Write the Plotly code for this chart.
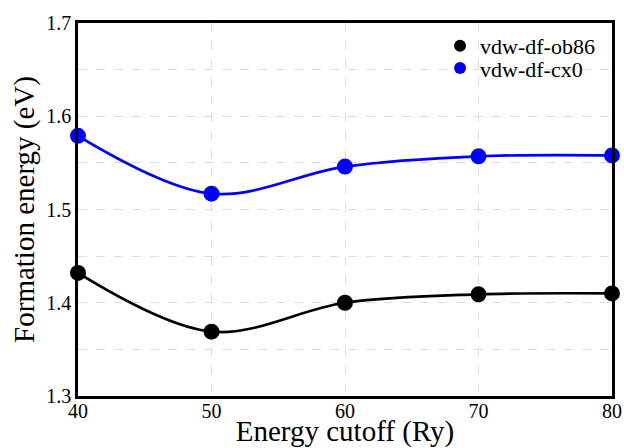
import plotly.graph_objects as go

cutoff = [40, 50, 60, 70, 80]
ob86 = [1.432, 1.369, 1.400, 1.409, 1.410]
cx0 = [1.579, 1.517, 1.546, 1.557, 1.558]
series_names = ["vdw-df-ob86", "vdw-df-cx0"]
y_ticks = [1.3, 1.4, 1.5, 1.6, 1.7]
x_ticks = [40, 50, 60, 70, 80]

FONT = "Liberation Serif"
fig = go.Figure()
for vals, color in [(ob86, "black"), (cx0, "#0000ff")]:
    fig.add_trace(go.Scatter(x=cutoff, y=vals, mode="lines",
                             line=dict(color=color, width=2.7, shape="spline", smoothing=1.0),
                             showlegend=False, hoverinfo="skip", cliponaxis=False))
for vals, color, name, leg in [(ob86, "black", series_names[0], "legend"),
                               (cx0, "#0000ff", series_names[1], "legend2")]:
    fig.add_trace(go.Scatter(x=cutoff, y=vals, mode="markers", name=name, legend=leg,
                             marker=dict(color=color, size=16), cliponaxis=False))

tickfont = dict(family=FONT, size=20, color="black")
leg_common = dict(xanchor="left", yanchor="top", font=dict(family=FONT, size=22, color="black"),
                  bgcolor="rgba(0,0,0,0)", itemsizing="constant")
fig.update_layout(
    width=624, height=448,
    margin=dict(l=78, r=12, t=23, b=52),
    paper_bgcolor="white", plot_bgcolor="white",
    font=dict(family=FONT, color="black", size=20),
    legend=dict(x=0.678, y=0.995, **leg_common),
    legend2=dict(x=0.678, y=0.935, **leg_common),
    xaxis=dict(range=[40, 80], tickvals=x_ticks, ticks="",
               showline=True, linecolor="black", linewidth=2.7, mirror=True,
               showgrid=True, gridcolor="#dddddd", griddash="dash", gridwidth=1,
               zeroline=False, tickfont=tickfont, ticklabelstandoff=-5,
               title=dict(text="Energy cutoff (Ry)", font=dict(family=FONT, size=29, color="black"), standoff=0),
               automargin=False),
    yaxis=dict(range=[1.3, 1.7], tickvals=y_ticks, ticktext=[f"{v:.1f}" for v in y_ticks], ticks="",
               showline=True, linecolor="black", linewidth=2.7, mirror=True,
               showgrid=True, gridcolor="#dddddd", griddash="dash", gridwidth=1,
               minor=dict(dtick=0.05, tick0=1.3, showgrid=True, gridcolor="#dddddd", griddash="dash", gridwidth=1),
               zeroline=False, tickfont=tickfont,
               title=dict(text="Formation energy (eV)", font=dict(family=FONT, size=29, color="black"), standoff=4),
               automargin=False),
)
fig.write_html("out.html", config={"displayModeBar": False},
               post_script="document.body.style.margin='0';document.body.style.overflow='hidden';")
